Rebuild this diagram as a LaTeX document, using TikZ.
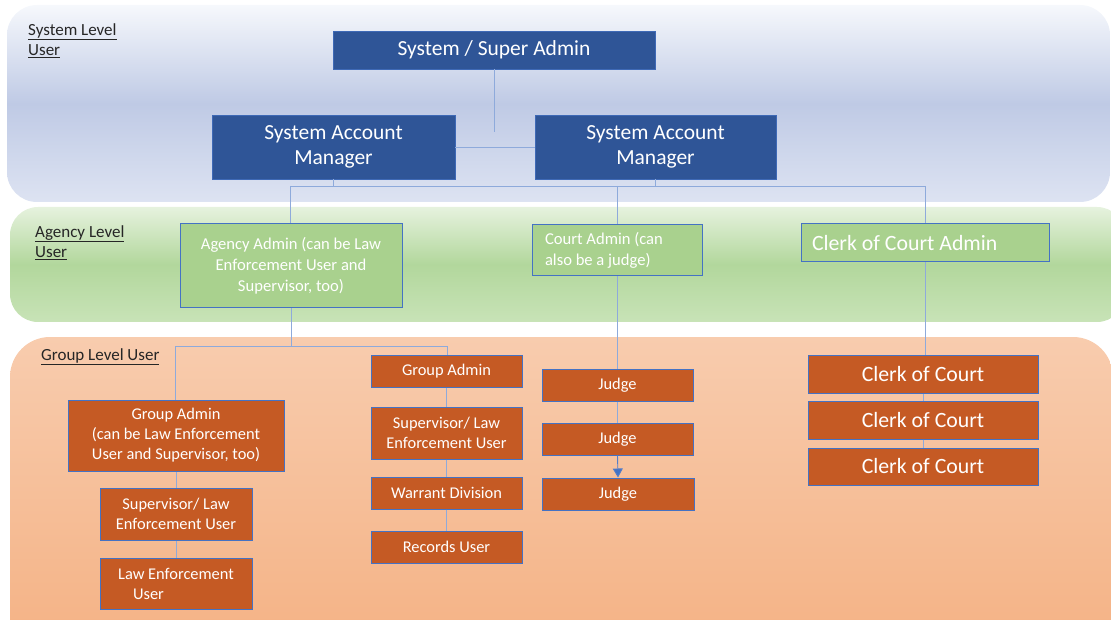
\documentclass[tikz,border=0pt]{standalone}
\usepackage{fontspec}
\setmainfont{Carlito}
\usetikzlibrary{arrows.meta}
\definecolor{darkblue}{HTML}{2F5597}
\definecolor{edgeblue}{HTML}{4472C4}
\definecolor{connblue}{HTML}{8EAADB}
\definecolor{greenfill}{HTML}{A9D18E}
\definecolor{orangefill}{HTML}{C55A24}
\definecolor{labeltext}{HTML}{262626}
\definecolor{systop}{HTML}{F6F8FC}
\definecolor{sysmid}{HTML}{BFCAE5}
\definecolor{sysbot}{HTML}{DDE3F2}
\definecolor{agtop}{HTML}{E6F2DE}
\definecolor{agmid}{HTML}{B2D79C}
\definecolor{agbot}{HTML}{C8E3B7}
\definecolor{grtop}{HTML}{F8CCAE}
\definecolor{grbot}{HTML}{F4B183}
\tikzset{
  sysbox/.style={draw=edgeblue!70!darkblue, line width=0.8pt, fill=darkblue, text=white, inner sep=0pt, align=center, font=\fontsize{21.5}{25.5}\selectfont},
  agbox/.style={draw=edgeblue, line width=1pt, fill=greenfill, text=white, inner sep=0pt, align=center, font=\fontsize{16.6}{20.8}\selectfont},
  grbox/.style={draw=edgeblue, line width=1pt, fill=orangefill, text=white, inner sep=0pt, align=center, font=\fontsize{16.4}{20}\selectfont},
  clerkbox/.style={grbox, font=\fontsize{21.8}{24}\selectfont},
  conn/.style={draw=connblue, line width=0.9pt},
  lvl/.style={anchor=north west, align=left, text=labeltext, inner sep=0pt, font=\fontsize{17}{20.5}\selectfont},
  lower/.style={text depth=0pt, yshift=0pt}
}
\newcommand{\dn}[1]{\raisebox{-1.5pt}{\begin{tabular}{@{}c@{}}#1\end{tabular}}}
\begin{document}
\begin{tikzpicture}[x=1pt,y=-1pt]
\useasboundingbox (0,0) rectangle (1111,620);
\clip (0,0) rectangle (1111,620);
% bands
\shade[rounded corners=30pt, top color=systop, bottom color=sysbot, middle color=sysmid]
  (7,5) rectangle (1110,202);
\shade[rounded corners=28pt, top color=agtop, bottom color=agbot, middle color=agmid]
  (10,207) rectangle (1125,322);
\shade[rounded corners=40pt, top color=grtop, bottom color=grbot]
  (10,337) rectangle (1113,660);
% level labels
\node[lvl] (lsys) at (28,23) {\underline{System Level}\\\underline{User}};
\node[lvl] (lag) at (35,225) {\underline{Agency Level}\\\underline{User}};
\node[lvl] (lgr) at (41,348) {\underline{Group Level User}};
% system level
\node[sysbox, minimum width=322pt, minimum height=38pt] (sa) at (494,50) {\raisebox{-1.5pt}{System / Super Admin}};
\node[sysbox, minimum width=243pt, minimum height=64pt] (sam1) at (333.5,147) {\raisebox{-1.5pt}{System Account}\\\raisebox{-1.5pt}{Manager}};
\node[sysbox, minimum width=241pt, minimum height=64pt] (sam2) at (655.5,147) {\raisebox{-1.5pt}{System Account}\\\raisebox{-1.5pt}{Manager}};
% agency level
\node[agbox, minimum width=222pt, minimum height=84pt] (aa) at (291,266) {Agency Admin (can be Law\\Enforcement User and\\Supervisor, too)};
\node[agbox, minimum width=170pt, minimum height=51pt, text width=144pt, align=flush left] (ca) at (617,250.5) {Court Admin (can\\also be a judge)};
\node[agbox, minimum width=248pt, minimum height=38pt, text width=226pt, align=flush left, font=\fontsize{21.8}{24}\selectfont] (cca) at (925,243) {\raisebox{-1pt}{Clerk of Court Admin}};
% group level
\node[grbox, minimum width=216pt, minimum height=71pt] (ga1) at (176,435.5) {Group Admin\\(can be Law Enforcement\\User and Supervisor, too)};
\node[grbox, minimum width=152pt, minimum height=52pt] (sle1) at (176,514) {Supervisor/ Law\\Enforcement User};
\node[grbox, minimum width=152pt, minimum height=51pt] (leu) at (176,583.5) {Law Enforcement\\\hspace*{-55pt}User};
\node[grbox, minimum width=151pt, minimum height=32pt] (ga2) at (446.5,371) {\raisebox{-1pt}{Group Admin}};
\node[grbox, minimum width=151pt, minimum height=52pt] (sle2) at (446.5,433) {Supervisor/ Law\\Enforcement User};
\node[grbox, minimum width=151pt, minimum height=32pt] (wd) at (446.5,493) {\raisebox{-1pt}{Warrant Division}};
\node[grbox, minimum width=151pt, minimum height=32pt] (ru) at (446.5,547) {\raisebox{-1pt}{Records User}};
\node[grbox, minimum width=151pt, minimum height=32pt] (j1) at (617.5,385) {\raisebox{-1pt}{Judge}};
\node[grbox, minimum width=151pt, minimum height=32pt] (j2) at (617.5,439) {\raisebox{-1pt}{Judge}};
\node[grbox, minimum width=152pt, minimum height=32pt] (j3) at (618,494) {\raisebox{-1pt}{Judge}};
\node[clerkbox, minimum width=230pt, minimum height=38pt] (c1) at (923,374) {\raisebox{-1.5pt}{Clerk of Court}};
\node[clerkbox, minimum width=230pt, minimum height=38pt] (c2) at (923,420) {\raisebox{-1.5pt}{Clerk of Court}};
\node[clerkbox, minimum width=230pt, minimum height=37pt] (c3) at (923,466.5) {\raisebox{-1.5pt}{Clerk of Court}};
% connector coordinates
\coordinate (saend) at (494,132);
\coordinate (b1l) at (290,186);
\coordinate (b1r) at (925,186);
\coordinate (b2l) at (175,346);
\coordinate (b2r) at (447,346);
% connectors
\draw[conn] (sa.south) -- (saend);
\draw[conn] (sam1.east) -- (sam2.west);
\draw[conn] (sam1.south) -- (sam1.south |- b1l);
\draw[conn] (sam2.south) -- ++(0,8);
\draw[conn] (b1l) -- (b1r);
\draw[conn] (b1l) -- (b1l |- aa.north);
\draw[conn] (ca.north |- b1l) -- (ca.north);
\draw[conn] (b1r) -- (cca.north);
\draw[conn] (aa.south) -- (aa.south |- b2l);
\draw[conn] (b2l) -- (b2r);
\draw[conn] (b2l) -- (b2l |- ga1.north);
\draw[conn] (b2r) -- (b2r |- ga2.north);
\draw[conn] (ca.south) -- (ca.south |- j1.north);
\draw[conn] (cca.south) -- (cca.south |- c1.north);
\draw[conn] (ga1) -- (sle1);
\draw[conn] (sle1) -- (leu);
\draw[conn] (ga2) -- (sle2);
\draw[conn] (sle2) -- (wd);
\draw[conn] (wd) -- (ru);
\draw[conn] (j1) -- (j2);
\draw[conn, draw=edgeblue!80!connblue, -{Triangle[width=10pt,length=9pt,fill=edgeblue]}] (j2.south) -- (j3.north);
\draw[conn] (c1) -- (c2);
\draw[conn] (c2) -- (c3);
\end{tikzpicture}
\end{document}
